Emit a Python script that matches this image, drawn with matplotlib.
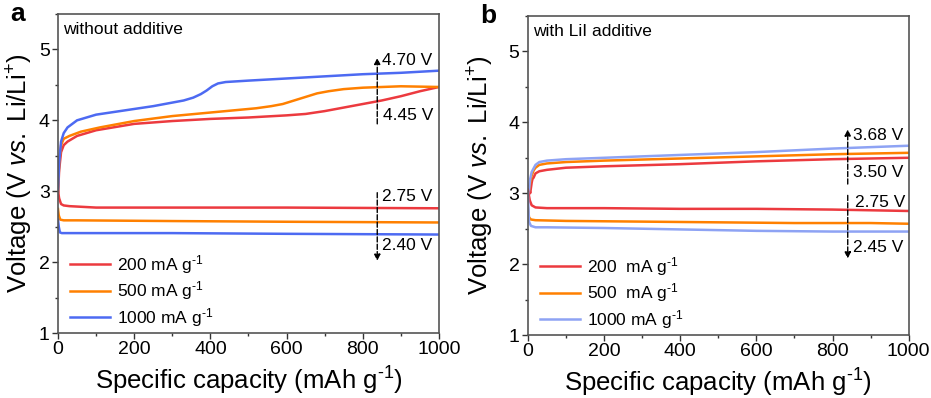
import matplotlib.pyplot as plt
from matplotlib.ticker import MultipleLocator

plt.rcParams['font.family'] = ['Liberation Sans', 'DejaVu Sans']
plt.rcParams['mathtext.fontset'] = 'custom'
plt.rcParams['mathtext.rm'] = 'Liberation Sans'
plt.rcParams['mathtext.it'] = 'Liberation Sans:italic'

# panel a: without additive
a_ch_200_x = [0, 3, 8, 15, 25, 50, 100, 200, 300, 400, 500, 600, 650, 700, 750, 800, 850, 900, 950, 1000]
a_ch_200_v = [2.95, 3.3, 3.55, 3.65, 3.7, 3.78, 3.86, 3.95, 3.99, 4.02, 4.04, 4.07, 4.09, 4.13, 4.18, 4.23, 4.28, 4.34, 4.41, 4.47]
a_ch_500_x = [0, 3, 8, 15, 30, 60, 110, 200, 300, 400, 460, 520, 560, 590, 620, 650, 680, 710, 750, 800, 900, 1000]
a_ch_500_v = [3.0, 3.4, 3.65, 3.74, 3.78, 3.84, 3.9, 3.99, 4.06, 4.11, 4.14, 4.17, 4.2, 4.23, 4.28, 4.33, 4.38, 4.41, 4.44, 4.46, 4.48, 4.47]
a_ch_1000_x = [0, 3, 8, 15, 25, 50, 100, 150, 200, 250, 300, 330, 355, 375, 390, 405, 420, 440, 500, 600, 700, 800, 900, 1000]
a_ch_1000_v = [3.0, 3.4, 3.7, 3.82, 3.9, 4.0, 4.08, 4.12, 4.16, 4.2, 4.25, 4.28, 4.32, 4.37, 4.42, 4.48, 4.52, 4.54, 4.56, 4.59, 4.62, 4.65, 4.67, 4.70]
a_dc_200_x = [0, 3, 8, 15, 30, 100, 300, 600, 1000]
a_dc_200_v = [3.0, 2.9, 2.82, 2.8, 2.79, 2.77, 2.77, 2.77, 2.76]
a_dc_500_x = [0, 2, 6, 15, 50, 300, 600, 1000]
a_dc_500_v = [2.75, 2.66, 2.6, 2.59, 2.59, 2.58, 2.57, 2.56]
a_dc_1000_x = [0, 2, 5, 10, 50, 300, 600, 1000]
a_dc_1000_v = [2.6, 2.5, 2.42, 2.41, 2.41, 2.41, 2.4, 2.39]

# panel b: with LiI additive
b_ch_200_x = [0, 3, 6, 10, 12, 15, 20, 30, 50, 100, 200, 400, 600, 800, 1000]
b_ch_200_v = [2.85, 3.1, 3.0, 3.15, 3.2, 3.22, 3.28, 3.31, 3.33, 3.36, 3.38, 3.41, 3.45, 3.48, 3.50]
b_ch_500_x = [0, 3, 6, 10, 15, 20, 30, 50, 100, 200, 400, 600, 800, 1000]
b_ch_500_v = [2.9, 3.05, 3.15, 3.25, 3.32, 3.36, 3.4, 3.42, 3.44, 3.46, 3.49, 3.52, 3.55, 3.57]
b_ch_1000_x = [0, 3, 6, 10, 15, 20, 30, 50, 100, 200, 400, 600, 800, 1000]
b_ch_1000_v = [2.9, 3.05, 3.2, 3.3, 3.35, 3.4, 3.44, 3.46, 3.48, 3.5, 3.54, 3.58, 3.63, 3.67]
b_dc_200_x = [0, 5, 10, 20, 50, 200, 400, 600, 800, 1000]
b_dc_200_v = [3.05, 2.9, 2.83, 2.8, 2.79, 2.79, 2.78, 2.78, 2.77, 2.75]
b_dc_500_x = [0, 3, 8, 20, 100, 300, 500, 700, 900, 1000]
b_dc_500_v = [2.8, 2.66, 2.63, 2.62, 2.61, 2.6, 2.59, 2.58, 2.58, 2.57]
b_dc_1000_x = [0, 3, 8, 20, 50, 200, 400, 600, 800, 1000]
b_dc_1000_v = [3.0, 2.6, 2.54, 2.52, 2.52, 2.51, 2.49, 2.47, 2.46, 2.46]

rates = ['200 mA g$^{\\text{-1}}$', '500 mA g$^{\\text{-1}}$', '1000 mA g$^{\\text{-1}}$']
rates_b = ['200  mA g$^{\\text{-1}}$', '500  mA g$^{\\text{-1}}$', '1000 mA g$^{\\text{-1}}$']
red = '#ec3a3f'
orange = '#ff8000'
blue_a = '#4d6af2'
blue_b = '#8ea3f4'

fig = plt.figure(figsize=(9.31, 3.98), dpi=100)
ax1 = fig.add_axes([0.0623, 0.163, 0.4092, 0.802])
ax2 = fig.add_axes([0.567, 0.158, 0.409, 0.802])

lw = 1.8
ax1.plot(a_ch_200_x, a_ch_200_v, color=red, lw=lw, label=rates[0])
ax1.plot(a_ch_500_x, a_ch_500_v, color=orange, lw=lw, label=rates[1])
ax1.plot(a_ch_1000_x, a_ch_1000_v, color=blue_a, lw=lw, label=rates[2])
ax1.plot(a_dc_200_x, a_dc_200_v, color=red, lw=lw)
ax1.plot(a_dc_500_x, a_dc_500_v, color=orange, lw=lw)
ax1.plot(a_dc_1000_x, a_dc_1000_v, color=blue_a, lw=lw)

ax2.plot(b_ch_200_x, b_ch_200_v, color=red, lw=lw, label=rates_b[0])
ax2.plot(b_ch_500_x, b_ch_500_v, color=orange, lw=lw, label=rates_b[1])
ax2.plot(b_ch_1000_x, b_ch_1000_v, color=blue_b, lw=lw, label=rates_b[2])
ax2.plot(b_dc_200_x, b_dc_200_v, color=red, lw=lw)
ax2.plot(b_dc_500_x, b_dc_500_v, color=orange, lw=lw)
ax2.plot(b_dc_1000_x, b_dc_1000_v, color=blue_b, lw=lw)

arrow = dict(arrowstyle='-|>', linestyle='--', color='black', lw=1.0,
             mutation_scale=9, shrinkA=0, shrinkB=0)


def annotate(ax, x, up, down):
    # dashed arrows marking the charge / discharge plateau shifts
    ax.annotate('', xy=(x, up[1]), xytext=(x, up[0]), arrowprops=arrow)
    ax.annotate('', xy=(x, down[1]), xytext=(x, down[0]), arrowprops=arrow)


for ax, letter, note, ylx in [(ax1, 'a', 'without additive', -0.06),
                              (ax2, 'b', 'with LiI additive', -0.085)]:
    ax.set_xlim(0, 1000)
    ax.set_ylim(1, 5.5)
    ax.xaxis.set_major_locator(MultipleLocator(200))
    ax.xaxis.set_minor_locator(MultipleLocator(100))
    ax.yaxis.set_major_locator(MultipleLocator(1))
    ax.yaxis.set_minor_locator(MultipleLocator(0.5))
    ax.tick_params(which='major', direction='out', length=4, width=1, labelsize=14, colors='#333333',
                   labelcolor='black', pad=2)
    ax.tick_params(which='minor', direction='out', length=2.5, width=1, colors='#333333')
    for s in ax.spines.values():
        s.set_color('#555555')
        s.set_linewidth(1.2)
    ax.set_xlabel('Specific capacity (mAh g$^{\\text{-1}}$)', fontsize=18.5)
    ax.set_ylabel('Voltage (V $\\mathit{vs.}$ Li/Li$^{+}$)', fontsize=18.5)
    ax.xaxis.set_label_coords(0.5, -0.1)
    ax.yaxis.set_label_coords(ylx, 0.5)
    ax.text(0.014, 0.975, note, transform=ax.transAxes, ha='left', va='top', fontsize=12.5)
    ax.text(-0.125, 1.0, letter, transform=ax.transAxes, ha='left', va='center',
            fontsize=19, fontweight='bold')
    ax.legend(loc='lower left', bbox_to_anchor=(-0.01, -0.035), frameon=False, fontsize=12.5,
              handlelength=2.3, handletextpad=0.4, labelspacing=0.2, borderaxespad=0.5)

annotate(ax1, 838, (3.95, 4.88), (2.98, 2.02))
ax1.text(850, 4.85, '4.70 V', fontsize=12.5, va='center')
ax1.text(852, 4.07, '4.45 V', fontsize=12.5, va='center')
ax1.text(850, 2.92, '2.75 V', fontsize=12.5, va='center')
ax1.text(850, 2.24, '2.40 V', fontsize=12.5, va='center')

annotate(ax2, 840, (3.13, 3.9), (2.97, 2.08))
ax2.text(855, 3.81, '3.68 V', fontsize=12.5, va='center')
ax2.text(855, 3.29, '3.50 V', fontsize=12.5, va='center')
ax2.text(858, 2.87, '2.75 V', fontsize=12.5, va='center')
ax2.text(855, 2.24, '2.45 V', fontsize=12.5, va='center')

fig.savefig('out.png', dpi=100)
